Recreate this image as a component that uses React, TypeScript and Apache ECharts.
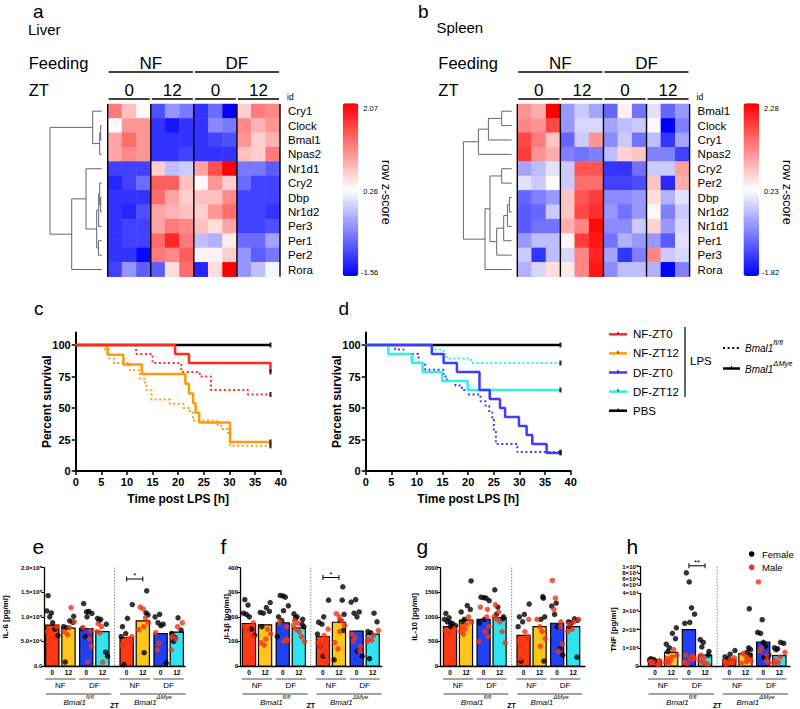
import React, { useEffect, useRef } from "react";
import * as echarts from "echarts";

const FONT = "'Liberation Sans', Arial, Helvetica, sans-serif";

// ================= a / b : heatmaps =================
const FEEDING = ["NF", "DF"];
const ZT_LEVELS = ["0", "12"];
const REPLICATES = 3;
const HEAT_COLS = ["s1", "s2", "s3", "s4", "s5", "s6", "s7", "s8", "s9", "s10", "s11", "s12"];

const LIVER_GENES = ["Cry1", "Clock", "Bmal1", "Npas2", "Nr1d1", "Cry2", "Dbp", "Nr1d2", "Per3", "Per1", "Per2", "Rora"];
const LIVER_Z = [
  [1.2, 0.7, 0.3, -1.0, -0.5, -0.7, -1.2, -0.8, -1.56, 0.6, 1.2, 1.1],
  [0.3, 1.0, 1.0, -1.2, -1.4, -1.2, -1.2, -0.6, -0.7, 1.1, 0.8, 1.0],
  [0.9, 1.3, 1.0, -1.2, -1.2, -1.2, -1.2, -1.1, -1.0, 1.0, 0.6, 0.8],
  [0.9, 1.1, 1.0, -1.2, -1.2, -1.1, -1.2, -1.2, -1.2, 0.7, 0.6, 1.2],
  [-1.1, -1.1, -1.1, 0.6, -0.2, -0.1, 0.9, 1.5, 2.07, -0.7, -0.7, -0.9],
  [-1.3, -1.1, -0.8, 1.4, 1.4, 0.7, 0.3, 1.0, 0.6, -0.8, -1.1, -1.1],
  [-1.2, -1.2, -1.2, 1.3, 0.9, 0.6, 0.7, 0.7, 1.1, -1.1, -1.1, -1.1],
  [-1.2, -1.3, -1.0, 0.9, 0.8, 0.7, 0.6, 1.0, 1.3, -1.1, -1.1, -1.2],
  [-1.2, -1.1, -1.1, 0.9, 1.2, 1.1, 0.7, 0.5, 0.9, -1.1, -1.1, -1.0],
  [-1.2, -1.1, -1.1, 1.3, 1.8, 1.2, -0.2, -0.3, 0.4, -0.8, -0.8, -0.4],
  [-1.2, -1.2, -1.5, 1.2, 1.1, 1.4, 0.35, 0.35, 0.6, -0.5, -0.9, -0.7],
  [-1.1, -0.5, -0.9, -0.9, 0.5, 1.3, -1.3, 0.5, 2.07, -0.5, -0.2, 0.2],
];
const LIVER_SCALE = [-1.56, 0.26, 2.07];
// merges: [childA, childB, height]; leaves 0..11, new clusters 12..
const LIVER_TREE = [
  [1, 2, 1], [12, 3, 2], [0, 13, 9],
  [6, 7, 1], [5, 15, 2], [16, 8, 3], [9, 10, 3.3], [17, 18, 5],
  [4, 19, 15.7], [20, 11, 30], [14, 21, 51.7],
];

const SPLEEN_GENES = ["Bmal1", "Clock", "Cry1", "Npas2", "Cry2", "Per2", "Dbp", "Nr1d2", "Nr1d1", "Per1", "Per3", "Rora"];
const SPLEEN_Z = [
  [1.1, 0.9, 2.28, -0.6, -0.2, -0.5, -1.0, 0.35, -0.9, 0.0, -1.0, -0.6],
  [1.2, 1.1, 1.7, -0.6, -0.1, -0.1, -0.5, -0.3, -0.2, 0.3, -1.82, -0.8],
  [1.7, 1.3, 0.7, -1.0, -0.2, 1.1, -0.7, -0.2, -0.9, -0.3, -1.4, -0.5],
  [1.8, 1.1, 0.9, -0.8, -0.9, -0.8, -0.3, 0.6, 0.7, -0.8, -0.8, -1.3],
  [-0.5, -0.3, 0.0, -0.2, 1.6, 1.6, -1.4, -1.4, -0.9, -0.2, -0.2, 1.0],
  [0.0, -0.2, 0.2, -0.2, 1.4, 1.4, -1.3, -1.3, -1.2, 0.7, -1.5, 0.9],
  [-1.0, -0.8, -0.6, 0.7, 1.6, 1.8, -0.7, -0.7, -0.6, 0.5, -0.4, 0.0],
  [-1.1, -1.0, -0.2, 0.7, 1.7, 1.9, -0.6, -0.9, -0.6, 0.3, -0.8, -0.2],
  [-1.1, -0.9, -0.9, 0.9, 1.2, 2.2, -0.7, -0.7, -0.2, 0.6, -0.6, -0.1],
  [-0.6, -0.3, -0.3, 0.3, 1.8, 2.1, -0.9, -0.4, -0.6, -0.6, -1.1, 0.0],
  [-0.2, -1.4, -0.3, -0.1, 1.2, 2.0, -0.5, -1.4, -0.8, 1.2, -0.2, -0.1],
  [-0.4, -0.1, 0.5, 0.4, 1.2, 2.1, -0.7, -0.3, -0.3, -0.4, -1.82, -0.8],
];
const SPLEEN_SCALE = [-1.82, 0.23, 2.28];
const SPLEEN_TREE = [
  [0, 1, 10], [12, 2, 23.3], [13, 3, 33.3],
  [6, 7, 2.3], [15, 8, 4.3], [16, 9, 8], [17, 10, 15], [4, 5, 10], [19, 18, 21.7],
  [20, 11, 26.7], [14, 21, 48.3],
];

// ================= c / d : survival =================
const C_PBS = [[0, 100], [38, 100]];
const C_NFZT0_FL = [[0, 100], [11.8, 92.9], [15, 85.7], [20.6, 78.6], [24.2, 75], [26.4, 64.3], [33.6, 60.7], [38, 60.7]];
const C_NFZT0_DM = [[0, 100], [19.4, 92.9], [22.1, 85.7], [38, 78.6]];
const C_NFZT12_FL = [[0, 100], [5.7, 96.4], [6.5, 89.3], [7.5, 85.7], [10.6, 80], [12.5, 73.3], [13.5, 70], [13.8, 64.3], [14.8, 56.7], [18.4, 53.3], [21, 50], [22.3, 46.7], [22.9, 40], [27.5, 36.7], [28.4, 33.3], [29.7, 30], [30.1, 20], [38, 20]];
const C_NFZT12_DM = [[0, 100], [6.2, 92.3], [9.3, 84.6], [12.9, 76.9], [21.4, 69.2], [22.1, 61.5], [22.9, 53.8], [23.4, 46.2], [24.1, 38.5], [30.1, 23.1], [38, 23.1]];

const D_PBS = [[0, 100], [38, 100]];
const D_DFZT0_FL = [[0, 100], [5.75, 96.4], [7.4, 92.9], [10.3, 85.7], [11.6, 80.4], [15.2, 75], [15.9, 71.4], [17.5, 67.9], [18.8, 64.3], [20.1, 60.7], [22.4, 55.4], [23.4, 51.8], [24.1, 46.4], [24.7, 41], [25, 32.1], [25.4, 21.4], [29.6, 15], [38, 15]];
const D_DFZT0_DM = [[0, 100], [12.9, 92.9], [15.2, 85.7], [17.8, 78.6], [22.2, 64.3], [24.2, 57.1], [26.2, 50], [27.2, 42.9], [29.9, 35.7], [31.4, 28.6], [32.5, 21.4], [35.3, 14.3], [38, 14.3]];
const D_DFZT12_FL = [[0, 100], [13, 96.4], [15.2, 92.9], [15.8, 89.3], [20.6, 85.7], [38, 85.7]];
const D_DFZT12_DM = [[0, 100], [4.4, 92.9], [9, 85.7], [11.1, 78.6], [14.9, 71.4], [19.9, 64.3], [38, 64.3]];

const COL_NF0 = "#ff2b1f";
const COL_NF12 = "#ff9a0a";
const COL_DF0 = "#3d3dff";
const COL_DF12 = "#2ff0f0";
const COL_PBS = "#000000";
const LEGEND_ITEMS = [
  { label: "NF-ZT0", color: COL_NF0 },
  { label: "NF-ZT12", color: COL_NF12 },
  { label: "DF-ZT0", color: COL_DF0 },
  { label: "DF-ZT12", color: COL_DF12 },
  { label: "PBS", color: COL_PBS },
];

// ================= e-h : cytokines =================
const BAR_ZT = ["0", "12", "0", "12", "0", "12", "0", "12"];
const GENOTYPES = ["fl/fl", "\u0394Mye"];
const BAR_COLORS = ["#ff3a12", "#ffc61a", "#1f40f5", "#2fe4f0"];

const IL6_BARS = [83000, 77000, 76000, 70000, 58000, 92000, 66000, 69000];
const IL6_FEMALE = [
  [143000, 108000, 112000, 100000, 88000, 75000, 62000],
  [101000, 92000, 89000, 80000, 78000, 8000],
  [127000, 110000, 111000, 107000, 100000, 76000, 60000],
  [97000, 95000, 92000, 85000, 28000, 20000],
  [125000, 97000, 80000, 66000, 60000, 3000],
  [153000, 108000, 104000, 27000],
  [105000, 100000, 88000, 82000, 85000, 6000],
  [98000, 73000, 66000, 58000, 50000],
];
const IL6_MALE = [
  [80000, 70000, 55000, 40000],
  [119000, 90000, 78000, 70000, 64000],
  [78000, 72000, 55000, 40000, 9000],
  [86000, 80000, 70000, 68000, 8000],
  [60000, 55000, 48000, 42000, 45000],
  [120000, 116000, 98000, 88000, 80000, 74000],
  [68000, 46000, 33000],
  [88000, 80000, 60000, 55000, 33000],
];

const IL1B_BARS = [173, 167, 176, 155, 120, 178, 142, 130];
const IL1B_FEMALE = [
  [270, 248, 215, 210, 200, 150, 125],
  [258, 238, 222, 218, 215, 160],
  [287, 285, 280, 245, 225, 200, 185, 120],
  [212, 200, 195, 190, 170, 160],
  [268, 200, 178, 170, 130, 80, 40],
  [322, 268, 210, 185, 145, 25],
  [270, 260, 215, 200, 220, 40, 60],
  [215, 180, 140, 135, 30],
];
const IL1B_MALE = [
  [175, 160, 150, 140, 120, 28],
  [150, 130, 110, 95, 85],
  [178, 160, 110, 105, 100],
  [185, 175, 165, 150, 140, 120, 100],
  [150, 125, 110, 95, 85, 75, 60, 45, 20],
  [213, 200, 185, 165, 140, 95, 70],
  [130, 115, 100, 80, 60],
  [145, 125, 110, 105, 100],
];

const IL10_BARS = [800, 935, 950, 985, 625, 800, 870, 800];
const IL10_FEMALE = [
  [1070, 980, 950, 900, 880, 860, 820, 800],
  [1730, 1230, 1150, 1100, 950, 900],
  [1400, 1390, 1380, 1330, 950, 880],
  [1550, 1200, 1050, 1000, 960],
  [1260, 1050, 1000, 900, 800, 100],
  [1380, 1410, 1000, 950, 100],
  [1280, 1220, 1050, 800, 350, 220],
  [960, 930, 900, 880, 800, 180],
];
const IL10_MALE = [
  [760, 720, 650, 620, 130],
  [1000, 900, 850, 800, 750, 700, 650],
  [1200, 1150, 1000, 800, 700, 600, 500],
  [1250, 1100, 1000, 950, 900, 700, 470],
  [950, 700, 600, 500, 400, 150],
  [950, 800, 700, 560, 400],
  [1740, 1380, 1150, 900, 800, 450, 300],
  [950, 900, 850, 750, 700],
];

const TNF_BARS = [3200, 7500, 20000, 6000, 3500, 6800, 13200, 5700];
const TNF_FEMALE = [
  [4000, 3500, 3300, 3000, 2500],
  [21000, 18000, 15000, 12000, 10000, 8000],
  [80000, 50000, 32000, 28500, 24000, 23500],
  [14500, 13000, 10500, 8000, 6000],
  [8500, 6500, 5000, 4000],
  [31500, 10000, 9000, 7500, 6000],
  [25500, 18500, 18000, 13000, 11000, 6000, 4500],
  [13000, 12500, 10000, 9500, 9000],
];
const TNF_MALE = [
  [3000, 2600, 2200, 1800, 1200, 800],
  [9000, 6000, 5000, 4000, 3000, 2000, 1500],
  [6000, 5500, 5000, 4500, 4000, 3500, 2000, 1500],
  [6000, 4500, 3000, 2000, 1500, 1000],
  [4500, 3500, 3000, 2500, 2000, 1000],
  [7000, 5500, 4000, 3000, 2500, 1500],
  [50000, 10000, 8000, 6000, 3000, 2000],
  [7500, 5000, 3000, 2000, 1500],
];

// layout (slot positions of the 8 bars on the x value axis)
const SLOTS = [1, 2, 3.1, 4.1, 5.6, 6.6, 7.7, 8.7];
const DIVIDER_X = 4.85;
const JITTER = [-0.26, 0.2, -0.06, 0.32, -0.34, 0.08, -0.16, 0.27, 0.02, -0.3, 0.16, -0.11, 0.35, -0.2, 0.05, 0.24];

const SUP: Record<string, string> = { "0": "\u2070", "1": "\u00b9", "2": "\u00b2", "3": "\u00b3", "4": "\u2074", "5": "\u2075", "6": "\u2076", "7": "\u2077", "8": "\u2078", "9": "\u2079" };
function sci(v: number, dec: number) {
  if (v === 0) return dec ? "0.0" : "0";
  const e = Math.floor(Math.log10(v) + 1e-9);
  const m = v / Math.pow(10, e);
  return m.toFixed(dec) + "\u00d710" + String(e).split("").map((c) => SUP[c]).join("");
}

function richGeno(size: number) {
  return {
    i: { fontStyle: "italic", fontSize: size, fontFamily: FONT, fill: "#000", lineHeight: size + 5, verticalAlign: "bottom" },
    s: { fontStyle: "italic", fontSize: size * 0.75, fontFamily: FONT, fill: "#000", lineHeight: size * 0.55, verticalAlign: "top" },
  };
}

function txt(x: number, y: number, text: string, size: number, extra: any = {}) {
  return {
    type: "text", x, y, silent: true,
    style: { text, fontSize: size, fontFamily: FONT, fill: "#000", align: "left", verticalAlign: "middle", ...extra },
  };
}

function buildOption() {
  const grids: any[] = [];
  const xAxes: any[] = [];
  const yAxes: any[] = [];
  const series: any[] = [];
  const visualMaps: any[] = [];
  const graphic: any[] = [];

  const addGrid = (g: any) => { grids.push({ ...g, containLabel: false, outerBoundsMode: "none", show: false }); return grids.length - 1; };
  const addX = (a: any) => { xAxes.push(a); return xAxes.length - 1; };
  const addY = (a: any) => { yAxes.push(a); return yAxes.length - 1; };

  // ---------- heatmap panels ----------
  const heatPanel = (genes: string[], z: number[][], scale: number[], tree: number[][], left: number, dendroRight: number, cbLeft: number) => {
    const top = 104, h = 172.7, w = 172.3;
    const g = addGrid({ left, top, width: w, height: h });
    const xc = addX({ type: "category", gridIndex: g, data: HEAT_COLS, show: false });
    const xv = addX({ type: "value", gridIndex: g, min: -0.5, max: 11.5, show: false });
    const yc = addY({
      type: "category", gridIndex: g, data: genes, inverse: true, position: "right",
      axisLine: { show: false }, axisTick: { show: false }, splitLine: { show: false },
      axisLabel: { fontSize: 11.5, color: "#000", margin: 8, fontFamily: FONT, interval: 0, hideOverlap: false },
    });
    const data: number[][] = [];
    z.forEach((row, r) => row.forEach((v, c) => data.push([c, r, v])));
    series.push({ type: "heatmap", xAxisIndex: xc, yAxisIndex: yc, data, itemStyle: { borderWidth: 0 }, emphasis: { disabled: true } });
    visualMaps.push({
      type: "continuous", seriesIndex: series.length - 1, min: scale[0], max: scale[2],
      inRange: { color: ["#0000ff", "#ffffff", "#ff0000"] }, calculable: false, orient: "vertical",
      left: cbLeft, top: top - 0.7, itemWidth: 15.6, itemHeight: h, padding: 0, hoverLink: false,
    });
    // headers and separators
    series.push({
      type: "custom", xAxisIndex: xv, yAxisIndex: yc, clip: false, silent: true, data: [[0, 0]],
      renderItem: (params: any, api: any) => {
        const cs = params.coordSys;
        const t = cs.y, b = cs.y + cs.height;
        const X = (v: number) => api.coord([v, 0])[0];
        const per = REPLICATES * ZT_LEVELS.length;
        const ch: any[] = [];
        for (let k = 0; k <= per * FEEDING.length; k += REPLICATES) {
          const x = X(k - 0.5);
          ch.push({ type: "line", shape: { x1: x, y1: t, x2: x, y2: b }, style: { stroke: "#000", lineWidth: 1.4 } });
        }
        FEEDING.forEach((f, i) => {
          const a = X(i * per - 0.5) + 1, e = X((i + 1) * per - 0.5) - 1;
          ch.push({ type: "line", shape: { x1: a, y1: t - 32, x2: e, y2: t - 32 }, style: { stroke: "#000", lineWidth: 1.5 } });
          ch.push(txt((a + e) / 2, t - 41, f, 17, { align: "center" }));
          ZT_LEVELS.forEach((zl, j) => {
            const s = i * per + j * REPLICATES;
            const a2 = X(s - 0.5) + 1, e2 = X(s + REPLICATES - 0.5) - 1;
            ch.push({ type: "line", shape: { x1: a2, y1: t - 5, x2: e2, y2: t - 5 }, style: { stroke: "#000", lineWidth: 1.5 } });
            ch.push(txt((a2 + e2) / 2, t - 14, zl, 17, { align: "center" }));
          });
        });
        ch.push(txt(cs.x - 79, t - 41, "Feeding", 16.5));
        ch.push(txt(cs.x - 79, t - 14, "ZT", 16.5));
        ch.push(txt(cs.x + cs.width + 7, t - 7, "id", 8.5));
        return { type: "group", children: ch };
      },
    });
    // dendrogram
    const maxH = tree[tree.length - 1][2];
    const gd = addGrid({ left: dendroRight - maxH, top, width: maxH, height: h });
    const xd = addX({ type: "value", gridIndex: gd, min: 0, max: maxH, inverse: true, show: false });
    const yd = addY({ type: "value", gridIndex: gd, min: -0.5, max: 11.5, inverse: true, show: false });
    series.push({
      type: "custom", xAxisIndex: xd, yAxisIndex: yd, clip: false, silent: true, data: [[0, 0]],
      renderItem: (_p: any, api: any) => {
        const pos: Record<number, number[]> = {};
        for (let i = 0; i < genes.length; i++) pos[i] = [0, i];
        const ch: any[] = [];
        tree.forEach(([a, b, hh], k) => {
          const pa = pos[a], pb = pos[b];
          const pts = [api.coord([pa[0], pa[1]]), api.coord([hh, pa[1]]), api.coord([hh, pb[1]]), api.coord([pb[0], pb[1]])];
          ch.push({ type: "polyline", shape: { points: pts }, style: { stroke: "#666", lineWidth: 1, fill: null } });
          pos[genes.length + k] = [hh, (pa[1] + pb[1]) / 2];
        });
        return { type: "group", children: ch };
      },
    });
    // colorbar labels
    const lx = cbLeft + 20.5;
    graphic.push(txt(lx, top + 4, scale[2].toFixed(2), 7.5));
    graphic.push(txt(lx, top + h / 2 + 1, scale[1].toFixed(2), 7.5));
    graphic.push(txt(lx - 2, top + h - 4, scale[0].toFixed(2), 7.5));
    graphic.push(txt(cbLeft + 43.5, top + h / 2 + 2, "row z-score", 12.5, { align: "center" }));
    graphic[graphic.length - 1].rotation = -Math.PI / 2;
  };

  heatPanel(LIVER_GENES, LIVER_Z, LIVER_SCALE, LIVER_TREE, 107.7, 101.7, 342.7);
  heatPanel(SPLEEN_GENES, SPLEEN_Z, SPLEEN_SCALE, SPLEEN_TREE, 517.3, 511.7, 743.5);

  // ---------- survival panels ----------
  const survPanel = (left: number, curves: any[]) => {
    const g = addGrid({ left, top: 332.4, width: 205, height: 138.6 });
    const axisCommon = {
      axisLine: { show: true, lineStyle: { color: "#000", width: 2 } },
      axisTick: { show: true, length: 4, lineStyle: { color: "#000", width: 1.5 } },
      splitLine: { show: false },
      nameTextStyle: { fontSize: 12, fontWeight: "bold", color: "#000", fontFamily: FONT },
      nameMoveOverlap: false,
    };
    const xi = addX({
      type: "value", gridIndex: g, min: 0, max: 40, interval: 5, ...axisCommon,
      axisLabel: { fontSize: 11, fontWeight: "bold", color: "#000", margin: 5, fontFamily: FONT },
      name: "Time post LPS [h]", nameLocation: "middle", nameGap: 22,
    });
    const yi = addY({
      type: "value", gridIndex: g, min: 0, max: 110, ...axisCommon,
      axisLabel: { fontSize: 11, fontWeight: "bold", color: "#000", margin: 5, fontFamily: FONT, customValues: [0, 25, 50, 75, 100] },
      axisTick: { show: true, length: 4, lineStyle: { color: "#000", width: 1.5 }, customValues: [0, 25, 50, 75, 100] },
      name: "Percent survival", nameLocation: "middle", nameGap: 23,
    });
    curves.forEach((c) => {
      series.push({
        type: "line", xAxisIndex: xi, yAxisIndex: yi, data: c.data, step: "end", symbol: "none", silent: true,
        lineStyle: { color: c.color, width: c.dotted ? 2 : 2.5, type: c.dotted ? [2, 2.6] : "solid", cap: "butt" },
      });
    });
    series.push({
      type: "scatter", xAxisIndex: xi, yAxisIndex: yi, silent: true, symbol: "rect", symbolSize: [2.2, 5],
      itemStyle: { color: "#000" }, data: curves.map((c) => c.data[c.data.length - 1]), z: 5,
    });
  };
  survPanel(75.7, [
    { data: C_PBS, color: COL_PBS, dotted: false },
    { data: C_NFZT12_FL, color: COL_NF12, dotted: true },
    { data: C_NFZT0_FL, color: COL_NF0, dotted: true },
    { data: C_NFZT12_DM, color: COL_NF12, dotted: false },
    { data: C_NFZT0_DM, color: COL_NF0, dotted: false },
  ]);
  survPanel(365.7, [
    { data: D_PBS, color: COL_PBS, dotted: false },
    { data: D_DFZT12_FL, color: COL_DF12, dotted: true },
    { data: D_DFZT0_FL, color: COL_DF0, dotted: true },
    { data: D_DFZT12_DM, color: COL_DF12, dotted: false },
    { data: D_DFZT0_DM, color: COL_DF0, dotted: false },
  ]);

  // ---------- bar panels ----------
  const yAxisBar = (g: number, extra: any) => addY({
    type: "value", gridIndex: g, splitLine: { show: false },
    axisLine: { show: true, lineStyle: { color: "#000", width: 1.3 } },
    axisTick: { show: true, length: 3, lineStyle: { color: "#000", width: 1 } },
    nameLocation: "middle", nameMoveOverlap: false,
    nameTextStyle: { fontSize: 8, fontWeight: "bold", color: "#000", fontFamily: FONT },
    ...extra,
    axisLabel: { fontSize: 6, fontWeight: "bold", color: "#000", margin: 2, fontFamily: FONT, ...(extra.axisLabel || {}) },
  });

  const scatterData = (groups: number[][], off: number, filter: (v: number) => boolean) => {
    const out: number[][] = [];
    groups.forEach((vals, gi) => vals.forEach((v, k) => {
      if (filter(v)) out.push([SLOTS[gi] + JITTER[(k * 2 + off + gi * 3) % JITTER.length], v]);
    }));
    return out;
  };

  const barPanel = (cfg: any) => {
    const { left, width, xMin, xMax, top, height, yName, nameGap, yMin, yMax, interval, fmt, bars, female, male, sig, upper } = cfg;
    const g = addGrid({ left, top, width, height });
    const xi = addX({
      type: "value", gridIndex: g, min: xMin, max: xMax,
      axisLine: { show: true, onZero: false, lineStyle: { color: "#000", width: 1.3 } },
      axisTick: { show: false }, axisLabel: { show: false }, splitLine: { show: false },
    });
    const yi = yAxisBar(g, { min: yMin, max: yMax, interval, name: yName, nameGap, axisLabel: { formatter: fmt } });
    const lim = upper ? upper.min : Infinity;
    series.push({
      type: "custom", xAxisIndex: xi, yAxisIndex: yi, silent: true,
      data: bars.map((v: number, i: number) => [SLOTS[i], v, i % 4]),
      renderItem: (_p: any, api: any) => {
        const x = api.value(0), v = api.value(1), ci = api.value(2);
        const p0 = api.coord([x - 0.41, v]);
        const p1 = api.coord([x + 0.41, 0]);
        return { type: "rect", shape: { x: p0[0], y: p0[1], width: p1[0] - p0[0], height: p1[1] - p0[1] }, style: { fill: BAR_COLORS[ci], stroke: "#000", lineWidth: 1.2 } };
      },
    });
    series.push({ type: "scatter", xAxisIndex: xi, yAxisIndex: yi, silent: true, symbolSize: 5.5, itemStyle: { color: "#000" }, data: scatterData(female, 0, (v) => v <= lim) });
    series.push({ type: "scatter", xAxisIndex: xi, yAxisIndex: yi, silent: true, symbolSize: 5.5, itemStyle: { color: "#f23318" }, data: scatterData(male, 7, (v) => v <= lim) });
    // annotations under the axis + divider
    const extraTop = upper ? upper.extraTop : 0;
    series.push({
      type: "custom", xAxisIndex: xi, yAxisIndex: yi, clip: false, silent: true, data: [[0, 0]], z: 1,
      renderItem: (params: any, api: any) => {
        const cs = params.coordSys;
        const y0 = cs.y + cs.height;
        const X = (v: number) => api.coord([v, 0])[0];
        const ch: any[] = [];
        ch.push({ type: "line", shape: { x1: X(DIVIDER_X), y1: cs.y - extraTop, x2: X(DIVIDER_X), y2: y0 }, style: { stroke: "#888", lineWidth: 1, lineDash: [1.5, 1.5] } });
        SLOTS.forEach((s, i) => ch.push(txt(X(s), y0 + 6, BAR_ZT[i], 6.5, { align: "center", fontWeight: "bold" })));
        for (let p = 0; p < 4; p++) {
          const a = X(SLOTS[2 * p] - 0.5) + 1, e = X(SLOTS[2 * p + 1] + 0.5) - 1;
          ch.push({ type: "line", shape: { x1: a, y1: y0 + 13, x2: e, y2: y0 + 13 }, style: { stroke: "#888", lineWidth: 1.5 } });
          ch.push(txt((a + e) / 2, y0 + 19.5, FEEDING[p % 2], 8, { align: "center", fill: "#000" }));
        }
        GENOTYPES.forEach((gt, gI) => {
          const a = X(SLOTS[4 * gI] - 0.4), e = X(SLOTS[4 * gI + 3] + 0.55);
          ch.push({ type: "line", shape: { x1: a, y1: y0 + 28, x2: e, y2: y0 + 28 }, style: { stroke: "#444", lineWidth: 1 } });
          ch.push({ type: "text", x: (a + e) / 2, y: y0 + 34, style: { text: "{i|Bmal1}{s|" + gt + "}", rich: richGeno(8), fill: "#000", align: "center", verticalAlign: "middle" } });
        });
        ch.push(txt(X(DIVIDER_X), y0 + 39, "ZT", 7, { align: "center", fontWeight: "bold" }));
        return { type: "group", children: ch };
      },
    });
    const sigSeries = (xa: number, ya: number, s: any) => series.push({
      type: "custom", xAxisIndex: xa, yAxisIndex: ya, clip: false, silent: true, z: 6,
      data: [[SLOTS[s.from], SLOTS[s.to], s.value]],
      renderItem: (_p: any, api: any) => {
        const a = api.coord([api.value(0), api.value(2)]);
        const b = api.coord([api.value(1), api.value(2)]);
        return {
          type: "group", children: [
            { type: "line", shape: { x1: a[0], y1: a[1], x2: b[0], y2: b[1] }, style: { stroke: "#000", lineWidth: 1 } },
            { type: "line", shape: { x1: a[0], y1: a[1] - 2.5, x2: a[0], y2: a[1] + 2.5 }, style: { stroke: "#000", lineWidth: 1 } },
            { type: "line", shape: { x1: b[0], y1: b[1] - 2.5, x2: b[0], y2: b[1] + 2.5 }, style: { stroke: "#000", lineWidth: 1 } },
            txt((a[0] + b[0]) / 2, a[1] - 3.5, s.label, 8, { align: "center" }),
          ],
        };
      },
    });
    if (upper) {
      const gu = addGrid({ left, top: upper.top, width, height: upper.height });
      const xu = addX({ type: "value", gridIndex: gu, min: xMin, max: xMax, show: false });
      const yu = yAxisBar(gu, {
        min: upper.min, max: upper.max,
        axisLabel: { formatter: (v: number) => sci(v, 0), customValues: upper.ticks },
        axisTick: { show: true, length: 3, lineStyle: { color: "#000", width: 1 }, customValues: upper.ticks },
      });
      series.push({ type: "scatter", xAxisIndex: xu, yAxisIndex: yu, silent: true, symbolSize: 5.5, itemStyle: { color: "#000" }, data: scatterData(female, 0, (v) => v > lim) });
      series.push({ type: "scatter", xAxisIndex: xu, yAxisIndex: yu, silent: true, symbolSize: 5.5, itemStyle: { color: "#f23318" }, data: scatterData(male, 7, (v) => v > lim) });
      if (sig) sigSeries(xu, yu, sig);
    } else if (sig) {
      sigSeries(xi, yi, sig);
    }
  };

  barPanel({
    left: 44.3, width: 140.7, xMin: 0.505, xMax: 9.21, top: 567.7, height: 98.3,
    yName: "IL-6 [pg/ml]", nameGap: 35, yMin: 0, yMax: 200000, interval: 50000, fmt: (v: number) => sci(v, 1),
    bars: IL6_BARS, female: IL6_FEMALE, male: IL6_MALE, sig: { from: 4, to: 5, value: 177000, label: "*" },
  });
  barPanel({
    left: 240, width: 141.7, xMin: 0.44, xMax: 9.26, top: 567.7, height: 98.3,
    yName: "Il-1\u03b2 [pg/ml]", nameGap: 10, yMin: 0, yMax: 400, interval: 100, fmt: (v: number) => String(v),
    bars: IL1B_BARS, female: IL1B_FEMALE, male: IL1B_MALE, sig: { from: 4, to: 5, value: 360, label: "*" },
  });
  barPanel({
    left: 440, width: 145, xMin: 0.375, xMax: 9.44, top: 567.7, height: 98.3,
    yName: "IL-10 [pg/ml]", nameGap: 22, yMin: 0, yMax: 2000, interval: 500, fmt: (v: number) => String(v),
    bars: IL10_BARS, female: IL10_FEMALE, male: IL10_MALE, sig: null,
  });
  barPanel({
    left: 640.7, width: 149.3, xMin: 0.114, xMax: 9.36, top: 593.3, height: 72.7,
    yName: "TNF [pg/ml]", nameGap: 23, yMin: 0, yMax: 40000, interval: 10000, fmt: (v: number) => sci(v, 0),
    bars: TNF_BARS, female: TNF_FEMALE, male: TNF_MALE, sig: { from: 2, to: 3, value: 103000, label: "**" },
    upper: { top: 566.7, height: 18.3, min: 40000, max: 100000, ticks: [40000, 60000, 80000, 100000], extraTop: 26.6 },
  });

  // ---------- panel letters & titles ----------
  graphic.push(txt(33, 11, "a", 19), txt(28, 29, "Liver", 15));
  graphic.push(txt(418, 11, "b", 19), txt(436.5, 27.5, "Spleen", 15));
  graphic.push(txt(34, 308.5, "c", 19), txt(338.5, 308.5, "d", 19));
  graphic.push(txt(32.5, 546, "e", 21), txt(220.5, 546, "f", 21), txt(416.5, 546, "g", 21), txt(626.5, 546, "h", 21));

  // ---------- survival legend ----------
  LEGEND_ITEMS.forEach((it, i) => {
    const y = 334.3 + i * 19.1;
    graphic.push({ type: "line", silent: true, shape: { x1: 609, y1: y, x2: 627, y2: y }, style: { stroke: it.color, lineWidth: 2.5 } });
    graphic.push({ type: "line", silent: true, shape: { x1: 618, y1: y - 2.5, x2: 618, y2: y }, style: { stroke: "#000", lineWidth: 1 } });
    graphic.push(txt(633, y, it.label, 11.5));
  });
  graphic.push({ type: "line", silent: true, shape: { x1: 685, y1: 327, x2: 685, y2: 397 }, style: { stroke: "#333", lineWidth: 1.5 } });
  graphic.push(txt(690, 361, "LPS", 11.5));
  graphic.push({ type: "line", silent: true, shape: { x1: 723, y1: 348, x2: 740, y2: 348 }, style: { stroke: "#000", lineWidth: 2, lineDash: [2, 2.6] } });
  graphic.push({ type: "line", silent: true, shape: { x1: 723, y1: 368.5, x2: 740, y2: 368.5 }, style: { stroke: "#000", lineWidth: 2.5 } });
  graphic.push({ type: "line", silent: true, shape: { x1: 731.5, y1: 366, x2: 731.5, y2: 368.5 }, style: { stroke: "#000", lineWidth: 1 } });
  graphic.push({ type: "text", x: 745, y: 346, silent: true, style: { text: "{i|Bmal1}{s|" + GENOTYPES[0] + "}", rich: richGeno(10), align: "left", verticalAlign: "middle" } });
  graphic.push({ type: "text", x: 745, y: 367, silent: true, style: { text: "{i|Bmal1}{s|" + GENOTYPES[1] + "}", rich: richGeno(10), align: "left", verticalAlign: "middle" } });

  // ---------- sex legend (h) ----------
  graphic.push({ type: "circle", silent: true, shape: { cx: 751.7, cy: 554, r: 2.8 }, style: { fill: "#000" } });
  graphic.push({ type: "circle", silent: true, shape: { cx: 751.7, cy: 567.3, r: 2.8 }, style: { fill: "#f23318" } });
  graphic.push(txt(762, 554, "Female", 9.5), txt(762, 567.3, "Male", 9.5));

  return {
    animation: false,
    backgroundColor: "#ffffff",
    textStyle: { fontFamily: FONT },
    grid: grids,
    xAxis: xAxes,
    yAxis: yAxes,
    visualMap: visualMaps,
    series,
    graphic: { elements: graphic },
  };
}

export default function App() {
  const ref = useRef<HTMLDivElement>(null);
  useEffect(() => {
    const chart = echarts.init(ref.current as HTMLDivElement, null, { renderer: "svg" });
    chart.setOption(buildOption() as any);
    return () => chart.dispose();
  }, []);
  return <div ref={ref} style={{ position: "absolute", left: 0, top: 0, width: 800, height: 709, background: "#fff" }} />;
}
